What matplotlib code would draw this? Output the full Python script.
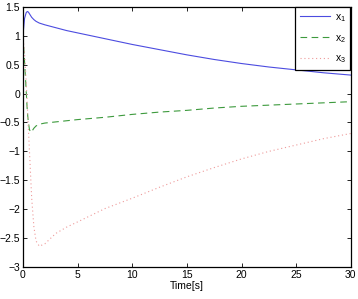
import matplotlib
matplotlib.use("Agg")
import matplotlib.pyplot as plt

# Data
t = [0, 0.15, 0.3, 0.4, 0.5, 0.6, 0.7, 0.8, 1.0, 1.2, 1.5, 2, 3, 4, 5, 7.5, 10,
     12.5, 15, 17.5, 20, 22.5, 25, 27.5, 30]
x1 = [1.0, 1.3, 1.4, 1.42, 1.41, 1.38, 1.35, 1.32, 1.28, 1.25, 1.22, 1.19, 1.14,
      1.09, 1.05, 0.95, 0.85, 0.76, 0.67, 0.59, 0.52, 0.46, 0.41, 0.36, 0.32]
x2 = [1.0, 0.55, 0.05, -0.3, -0.5, -0.62, -0.67, -0.66, -0.6, -0.56, -0.53,
      -0.51, -0.49, -0.47, -0.45, -0.41, -0.36, -0.32, -0.29, -0.25, -0.22,
      -0.2, -0.18, -0.16, -0.14]
x3 = [1.0, 0.7, 0.2, -0.2, -0.6, -1.0, -1.4, -1.8, -2.3, -2.55, -2.64, -2.6,
      -2.42, -2.31, -2.22, -1.99, -1.81, -1.62, -1.44, -1.28, -1.13, -1.0,
      -0.89, -0.78, -0.69]

plt.rcParams["font.family"] = ["Liberation Sans", "DejaVu Sans"]
plt.rcParams["mathtext.fontset"] = "custom"
plt.rcParams["mathtext.rm"] = "Liberation Sans"
plt.rcParams["mathtext.it"] = "Liberation Sans"

fig = plt.figure(figsize=(3.58, 2.99), dpi=100)
ax = fig.add_axes([0.064, 0.107, 0.916, 0.870])

ax.plot(t, x1, color="#4c4ce0", lw=0.8, label=r"x$_\mathrm{1}$")
ax.plot(t, x2, color="#3d9a3d", lw=0.8, ls=(0, (6, 4)), label=r"x$_\mathrm{2}$")
ax.plot(t, x3, color="#ee9a9a", lw=0.8, ls=(0, (1, 2.5)), label=r"x$_\mathrm{3}$")

ax.set_xlim(0, 30)
ax.set_ylim(-3, 1.5)
ax.set_xticks([0, 5, 10, 15, 20, 25, 30])
ax.set_yticks([-3, -2.5, -2, -1.5, -1, -0.5, 0, 0.5, 1, 1.5])
ax.set_yticklabels(["\u22123", "\u22122.5", "\u22122", "\u22121.5", "\u22121",
                    "\u22120.5", "0", "0.5", "1", "1.5"])
ax.tick_params(direction="in", top=True, right=True, length=3, width=0.6,
               labelsize=7.5, pad=2)
for s in ax.spines.values():
    s.set_linewidth(0.9)

ax.set_xlabel("Time[s]", fontsize=7.5, labelpad=1)

leg = ax.legend(loc="upper right", fontsize=7.5, fancybox=False, framealpha=1,
                edgecolor="black", handlelength=2.9, borderaxespad=0.05,
                labelspacing=0.85, borderpad=0.45, handletextpad=0.45)
leg.get_frame().set_linewidth(0.9)

fig.savefig("out.png", dpi=100)
